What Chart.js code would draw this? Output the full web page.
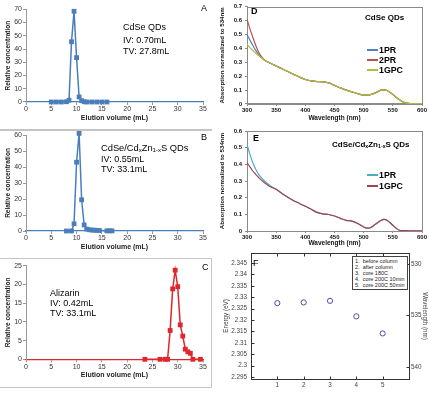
<!DOCTYPE html>
<html><head><meta charset="utf-8">
<script src="https://cdn.jsdelivr.net/npm/chart.js@4.4.1/dist/chart.umd.min.js"></script>
<style>
html,body{margin:0;padding:0;background:#fff;}
#wrap{position:relative;width:429px;height:393px;overflow:hidden;font-family:"Liberation Sans",Arial,sans-serif;background:#fff;}
canvas{position:absolute;left:0;top:0;}
.t{position:absolute;white-space:nowrap;color:#000;}
.hl{position:absolute;background:#c4c4c4;}
sub{font-size:65%;vertical-align:-0.2em;line-height:0;}
.lg{position:absolute;border:1px solid #444;background:#fff;font-size:5.5px;line-height:6px;color:#222;padding:1px 2px;white-space:nowrap;}
</style></head><body>
<div id="wrap">
<canvas id="cA" width="429" height="393"></canvas>
<canvas id="cB" width="429" height="393"></canvas>
<canvas id="cC" width="429" height="393"></canvas>
<canvas id="cD" width="429" height="393"></canvas>
<canvas id="cE" width="429" height="393"></canvas>
<canvas id="cF" width="429" height="393"></canvas>
</div>
<script>
// ---------------- DATA ----------------
// Panel A: CdSe QDs elution
const elutionA = [5,6,7,8,8.5,9,9.5,10,10.5,11,11.5,12,13,14,15,16];
const concA    = [0,0,0,0.2,1.3,45.5,68.5,33.5,3.8,1,0.2,0,0,0,0,0];
// Panel B: CdSe/CdxZn1-xS QDs elution
const elutionB = [8,9,9.5,10,10.5,11,11.5,12,12.5,13,13.5,14,14.5,16,16.5,17];
const concB    = [0,0,4.5,43,61,19.5,3.8,1.2,0.8,0.6,0.5,0.4,0.3,0.1,0.1,0.1];
// Panel C: Alizarin elution
const elutionC = [23.5,26.5,27.5,28,28.5,29,29.5,30,30.5,31,31.5,32,32.5,33,34.5];
const concC    = [0,0,0,0,7.7,18.8,23.8,19.4,9.2,6.2,2.7,2.0,1.6,0,0];

// Panel D: CdSe QDs absorption (normalized to 534nm)
const wavelengthD = [300,305,310,315,320,325,330,340,350,360,370,380,390,400,410,420,430,440,450,460,470,480,490,500,510,520,530,535,540,550,560,570,580,590,600];
const absD_1PR  = [0.50,0.46,0.42,0.385,0.355,0.333,0.315,0.293,0.273,0.253,0.233,0.213,0.193,0.176,0.166,0.161,0.159,0.152,0.134,0.116,0.100,0.087,0.074,0.065,0.066,0.080,0.100,0.102,0.097,0.068,0.034,0.010,0.003,0.002,0.002];
const absD_2PR  = [0.61,0.54,0.48,0.42,0.372,0.338,0.316,0.293,0.273,0.253,0.233,0.213,0.193,0.176,0.166,0.161,0.159,0.152,0.134,0.116,0.100,0.087,0.074,0.065,0.066,0.080,0.100,0.102,0.097,0.068,0.034,0.010,0.003,0.002,0.002];
const absD_1GPC = [0.43,0.405,0.385,0.365,0.348,0.332,0.315,0.293,0.273,0.253,0.233,0.213,0.193,0.176,0.166,0.161,0.159,0.152,0.134,0.116,0.100,0.087,0.074,0.065,0.066,0.080,0.100,0.102,0.097,0.068,0.034,0.010,0.003,0.002,0.002];

// Panel E: CdSe/CdxZn1-xS QDs absorption
const wavelengthE = [300,305,310,315,320,330,340,350,360,370,380,390,400,410,420,430,440,450,460,470,480,490,500,505,510,520,530,535,540,550,560,570,580,590,600];
const absE_1PR  = [0.52,0.46,0.41,0.37,0.34,0.30,0.272,0.25,0.225,0.202,0.182,0.165,0.148,0.13,0.112,0.103,0.099,0.090,0.076,0.064,0.059,0.045,0.024,0.017,0.018,0.040,0.064,0.070,0.065,0.034,0.006,0.002,0.001,0.001,0.001];
const absE_1GPC = [0.41,0.385,0.36,0.34,0.32,0.29,0.266,0.25,0.225,0.202,0.182,0.165,0.148,0.13,0.112,0.103,0.099,0.090,0.076,0.064,0.059,0.045,0.024,0.017,0.018,0.040,0.064,0.070,0.065,0.034,0.006,0.002,0.001,0.001,0.001];

// Panel F: band-edge energy per sample
const sampleF = [1,2,3,4,5];
const energyF = [2.3274,2.3277,2.3284,2.3216,2.3141];
const sampleLabelsF = ['before column','after column','core 180C','core 200C 10min','core 200C 50min'];
const energyTicksF = [2.295,2.3,2.305,2.31,2.315,2.32,2.325,2.33,2.335,2.34,2.345];
const wavelengthTicksF = [530,535,540];

// ---------------- LAYOUT HELPERS ----------------
const W = 429, H = 393;
const FONT = '"Liberation Sans", Arial, sans-serif';
const wrap = document.getElementById('wrap');

function pin(area, o) {
  const ylh = o.yTitleSize * 1.2;
  const padLeft = o.yTitleX - ylh / 2;
  const yW = area.l - padLeft;
  const xH = o.xTitleY ? (o.xTitleY + o.xTitleSize * 1.2 / 2 - area.b) : (H - area.b);
  const padBottom = H - area.b - xH;
  let rW = 0;
  if (o.rTitleX) rW = o.rTitleX + o.rTitleSize * 1.2 / 2 - area.r;
  const padRight = W - area.r - rW;
  return {padding: {left: padLeft, top: area.t, right: padRight, bottom: padBottom}, yW, xH, rW};
}

const framePlugin = {
  id: 'frame',
  beforeDatasetsDraw(chart, args, opts) {
    if (!opts || !opts.color) return;
    const {ctx, chartArea: a} = chart;
    ctx.save();
    ctx.strokeStyle = opts.color;
    ctx.lineWidth = 1;
    const l = Math.round(a.left) + 0.5, t = Math.round(a.top) + 0.5, r = Math.round(a.right) + 0.5, b = Math.round(a.bottom) + 0.5;
    ctx.strokeRect(l, t, r - l, b - t);
    if (opts.inTicks) {
      const L = 3;
      ctx.beginPath();
      chart.scales.y.ticks.forEach(tk => { const p = Math.round(chart.scales.y.getPixelForValue(tk.value)) + 0.5; ctx.moveTo(l, p); ctx.lineTo(l + L, p); });
      chart.scales.y2.ticks.forEach(tk => { const p = Math.round(chart.scales.y2.getPixelForValue(tk.value)) + 0.5; ctx.moveTo(r, p); ctx.lineTo(r - L, p); });
      chart.scales.x.ticks.forEach(tk => { const p = Math.round(chart.scales.x.getPixelForValue(tk.value)) + 0.5; ctx.moveTo(p, b); ctx.lineTo(p, b - L); ctx.moveTo(p, t); ctx.lineTo(p, t + L); });
      ctx.stroke();
    }
    ctx.restore();
  }
};

function addText(html, x, cy, size, o = {}) {
  const d = document.createElement('div');
  d.className = 't';
  d.innerHTML = html;
  const lh = size * 1.2;
  d.style.left = x + 'px';
  d.style.top = (cy - lh / 2) + 'px';
  d.style.fontSize = size + 'px';
  d.style.lineHeight = lh + 'px';
  if (o.bold) d.style.fontWeight = 'bold';
  if (o.color) d.style.color = o.color;
  wrap.appendChild(d);
  return d;
}
function addLine(x, y, w, h, color) {
  const d = document.createElement('div');
  d.className = 'hl';
  d.style.left = x + 'px'; d.style.top = y + 'px'; d.style.width = w + 'px'; d.style.height = h + 'px';
  if (color) d.style.background = color;
  wrap.appendChild(d);
}

const baseOpts = {responsive: false, devicePixelRatio: 1, animation: false, events: []};

// ---------------- ELUTION PANELS (A, B, C) ----------------
function elutionChart(id, xs, ys, color, area, yMax, yStep, xPad) {
  const p = pin(area, {yTitleX: 8, yTitleSize: 6.5, xTitleY: area.b + 16, xTitleSize: 7});
  const tickFont = {family: FONT, size: 7};
  return new Chart(document.getElementById(id), {
    type: 'line',
    data: {datasets: [{
      data: xs.map((x, i) => ({x, y: ys[i]})),
      borderColor: color, backgroundColor: color, borderWidth: 1.5,
      pointStyle: 'rect', pointRadius: 3.4, pointBorderWidth: 0, pointBackgroundColor: color,
      tension: 0, clip: false
    }]},
    options: Object.assign({}, baseOpts, {
      layout: {padding: p.padding},
      plugins: {legend: {display: false}, tooltip: {enabled: false}},
      scales: {
        x: {type: 'linear', min: 0, max: 35,
          ticks: {stepSize: 5, font: tickFont, color: '#333', padding: xPad, maxRotation: 0},
          grid: {display: true, drawOnChartArea: false, tickLength: 3, tickColor: '#999'},
          border: {color: color, width: 1.3},
          title: {display: true, text: 'Elution volume (mL)', font: {family: FONT, size: 7, weight: 'bold', lineHeight: 1.2}, color: '#222', padding: 0},
          afterFit: s => { s.height = p.xH; }
        },
        y: {type: 'linear', min: 0, max: yMax,
          ticks: {stepSize: yStep, font: tickFont, color: '#333', padding: 1},
          grid: {display: true, drawOnChartArea: false, tickLength: 3, tickColor: '#999'},
          border: {color: '#999', width: 1},
          title: {display: true, text: 'Relative concentration', font: {family: FONT, size: 6.5, weight: 'bold', lineHeight: 1.2}, color: '#222', padding: 0},
          afterFit: s => { s.width = p.yW; }
        }
      }
    })
  });
}
elutionChart('cA', elutionA, concA, '#4a7ebb', {l: 26, r: 203, t: 9.3, b: 102}, 70, 10, 0);
elutionChart('cB', elutionB, concB, '#4a7ebb', {l: 26, r: 203, t: 135, b: 231}, 60, 10, 0);
elutionChart('cC', elutionC, concC, '#e0262c', {l: 26, r: 203, t: 265.7, b: 359.3}, 25, 5, 0.8);

// ---------------- ABSORPTION PANELS (D, E) ----------------
function absChart(id, xs, series, area, yMax, xTitleY) {
  const p = pin(area, {yTitleX: 222, yTitleSize: 6.2, xTitleY: xTitleY, xTitleSize: 6.5});
  const tickFont = {family: FONT, size: 6, weight: 'bold'};
  return new Chart(document.getElementById(id), {
    type: 'line',
    plugins: [framePlugin],
    data: {datasets: series.map(s => ({
      label: s.label, data: xs.map((x, i) => ({x, y: s.values[i]})),
      borderColor: s.color, borderWidth: 1.2, pointRadius: 0, order: s.order,
      cubicInterpolationMode: 'monotone'
    }))},
    options: Object.assign({}, baseOpts, {
      layout: {padding: p.padding},
      plugins: {legend: {display: false}, tooltip: {enabled: false}, frame: {color: '#8a8a8a'}},
      scales: {
        x: {type: 'linear', min: 300, max: 600,
          ticks: {stepSize: 50, font: tickFont, color: '#111', padding: 0.5, maxRotation: 0},
          grid: {display: true, drawOnChartArea: false, tickLength: 2, tickColor: '#888'},
          border: {color: '#8a8a8a'},
          title: {display: true, text: 'Wavelength (nm)', font: {family: FONT, size: 6.5, weight: 'bold', lineHeight: 1.2}, color: '#111', padding: 0},
          afterFit: s => { s.height = p.xH; }
        },
        y: {type: 'linear', min: 0, max: yMax,
          ticks: {stepSize: 0.1, font: tickFont, color: '#111', padding: 3},
          grid: {display: true, drawOnChartArea: false, tickLength: 2, tickColor: '#888'},
          border: {color: '#8a8a8a'},
          title: {display: true, text: 'Absorption normalized to 534nm', font: {family: FONT, size: 6.2, weight: 'bold', lineHeight: 1.2}, color: '#111', padding: 0},
          afterFit: s => { s.width = p.yW; }
        }
      }
    })
  });
}
const colD = {pr1: '#4f81bd', pr2: '#c0504d', gpc: '#a9bf3f'};
const colE = {pr1: '#4bacc6', gpc: '#a8414a'};
absChart('cD', wavelengthD, [
  {label: '1PR', values: absD_1PR, color: colD.pr1, order: 2},
  {label: '2PR', values: absD_2PR, color: colD.pr2, order: 1},
  {label: '1GPC', values: absD_1GPC, color: colD.gpc, order: 0}
], {l: 247, r: 422, t: 4.7, b: 104}, 0.7, 118);
absChart('cE', wavelengthE, [
  {label: '1PR', values: absE_1PR, color: colE.pr1, order: 1},
  {label: '1GPC', values: absE_1GPC, color: colE.gpc, order: 0}
], {l: 247, r: 422, t: 131, b: 231}, 0.6, 243);

// ---------------- PANEL F ----------------
(function () {
  const area = {l: 251, r: 409, t: 253, b: 379};
  const p = pin(area, {yTitleX: 226, yTitleSize: 6.3, rTitleX: 424.5, rTitleSize: 6.3});
  const tickFont = {family: FONT, size: 6.3};
  new Chart(document.getElementById('cF'), {
    type: 'scatter',
    plugins: [framePlugin],
    data: {datasets: [{
      data: sampleF.map((x, i) => ({x, y: energyF[i]})),
      yAxisID: 'y', pointStyle: 'circle', pointRadius: 2.6,
      pointBorderColor: '#3b3b9e', pointBackgroundColor: 'rgba(0,0,0,0)', pointBorderWidth: 0.9,
      showLine: false
    }]},
    options: Object.assign({}, baseOpts, {
      layout: {padding: p.padding},
      plugins: {legend: {display: false}, tooltip: {enabled: false}, frame: {color: '#333', inTicks: true}},
      scales: {
        x: {type: 'linear', min: 0, max: 6,
          afterBuildTicks: s => { s.ticks = sampleF.map(v => ({value: v})); },
          ticks: {font: tickFont, color: '#444', padding: 2.5, maxRotation: 0},
          grid: {display: false, drawTicks: false}, border: {display: false},
          afterFit: s => { s.height = p.xH; }
        },
        y: {type: 'linear', position: 'left', min: 2.2941, max: 2.3494,
          afterBuildTicks: s => { s.ticks = energyTicksF.map(v => ({value: v})); },
          ticks: {font: tickFont, color: '#444', padding: 4, callback: v => String(+(+v).toFixed(3))},
          grid: {display: false, drawTicks: false}, border: {display: false},
          title: {display: true, text: 'Energy (eV)', font: {family: FONT, size: 6.3, lineHeight: 1.2}, color: '#444', padding: 0},
          afterFit: s => { s.width = p.yW; }
        },
        y2: {type: 'linear', position: 'right', reverse: true, min: 528.93, max: 541.17,
          afterBuildTicks: s => { s.ticks = wavelengthTicksF.map(v => ({value: v})); },
          ticks: {font: tickFont, color: '#444', padding: 2},
          grid: {display: false, drawTicks: false}, border: {display: false},
          title: {display: true, text: 'Wavelength (nm)', font: {family: FONT, size: 6.3, lineHeight: 1.2}, color: '#444', padding: 0},
          afterFit: s => { s.width = p.rW; }
        }
      }
    })
  });
  const lg = document.createElement('div');
  lg.className = 'lg';
  lg.style.left = '352px'; lg.style.top = '256px';
  lg.innerHTML = sampleLabelsF.map((s, i) => (i + 1) + '.&nbsp;&nbsp;' + s).join('<br>');
  wrap.appendChild(lg);
})();

// ---------------- ANNOTATIONS ----------------
addText('A', 201, 8, 9);
addText('CdSe QDs', 123, 27, 9);
addText('IV: 0.70mL', 123, 40, 9);
addText('TV: 27.8mL', 123, 51, 9);

addText('B', 201, 137, 9);
addText('CdSe/Cd<sub>x</sub>Zn<sub>1-x</sub>S QDs', 101, 149, 9.3);
addText('IV: 0.55mL', 101, 159.5, 9);
addText('TV: 33.1mL', 101, 169.5, 9);

addText('C', 202, 267, 9);
addText('Alizarin', 50, 293, 9);
addText('IV: 0.42mL', 50, 303, 9);
addText('TV: 33.1mL', 50, 313, 9);

addText('D', 251, 11, 9, {bold: true});
addText('CdSe QDs', 365, 18, 8, {bold: true});
addText('E', 253, 138, 9, {bold: true});
addText('CdSe/Cd<sub>x</sub>Zn<sub>1-x</sub>S QDs', 332, 145, 8, {bold: true});
addText('F', 253, 263, 9);

// legends D and E
[['1PR', colD.pr1, 50], ['2PR', colD.pr2, 60], ['1GPC', colD.gpc, 70]].forEach(([t, c, y]) => {
  addLine(367, y - 0.75, 11, 1.5, c); addText(t, 379, y, 8.8, {bold: true});
});
[['1PR', colE.pr1, 175], ['1GPC', colE.gpc, 186]].forEach(([t, c, y]) => {
  addLine(367, y - 0.75, 11, 1.5, c); addText(t, 379, y, 8.8, {bold: true});
});

// panel separators
addLine(0, 129, 212, 1.5);
addLine(0, 257.5, 212, 1.5);
addLine(0, 386.5, 212, 1.5);
addLine(210.5, 258, 1.5, 130);
</script>
</body></html>
